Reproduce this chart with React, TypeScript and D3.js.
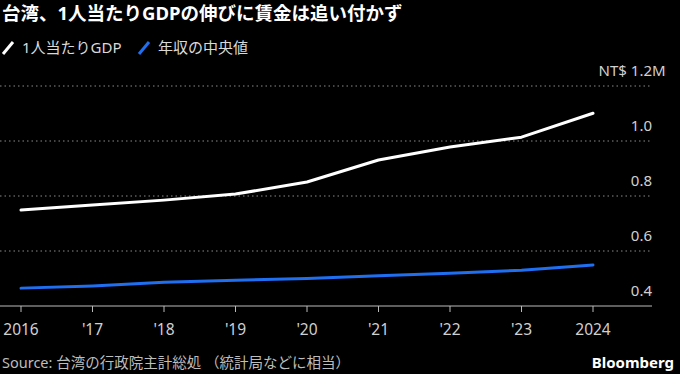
import React from "react";
import * as d3 from "d3";

const years = [2016, 2017, 2018, 2019, 2020, 2021, 2022, 2023, 2024];
const yearLabels = ["2016", "'17", "'18", "'19", "'20", "'21", "'22", "'23", "2024"];
const gdpPerCapita = [0.749, 0.767, 0.785, 0.807, 0.851, 0.931, 0.978, 1.014, 1.101];
const medianIncome = [0.465, 0.473, 0.486, 0.494, 0.5, 0.51, 0.519, 0.53, 0.549];
const yTicks = [0.4, 0.6, 0.8, 1.0, 1.2];
const seriesNames = ["1人当たりGDP", "年収の中央値"];
const seriesColors = ["#ffffff", "#1f6ff0"];

const W = 680;
const H = 374;
const FONT = "'Noto Sans', 'Noto Sans CJK JP', sans-serif";

export default function App() {
  const x = d3.scaleLinear().domain([2016, 2024]).range([21, 593]);
  const y = d3.scaleLinear().domain([0.4, 1.2]).range([306, 86]);
  const line = d3
    .line<number>()
    .x((_, i) => x(years[i]))
    .y((d) => y(d));
  const series = [gdpPerCapita, medianIncome];

  return (
    <svg
      width={W}
      height={H}
      style={{ position: "absolute", left: 0, top: 0, background: "#000" }}
      fontFamily={FONT}
    >
      <rect x={0} y={0} width={W} height={H} fill="#000" />
      <text x={2} y={20} fill="#fff" fontSize={18.5} fontWeight={700}>
        台湾、1人当たりGDPの伸びに賃金は追い付かず
      </text>
      {/* legend */}
      <g>
        <line x1={3} y1={54} x2={13} y2={42} stroke={seriesColors[0]} strokeWidth={3} />
        <text x={22} y={53} fill="#d9d9d9" fontSize={15}>
          {seriesNames[0]}
        </text>
        <line x1={139} y1={54} x2={149} y2={42} stroke={seriesColors[1]} strokeWidth={3} />
        <text x={158} y={53} fill="#d9d9d9" fontSize={15}>
          {seriesNames[1]}
        </text>
      </g>
      {/* grid */}
      {yTicks
        .filter((t) => t > 0.4)
        .map((t) => (
          <line
            key={t}
            x1={0}
            x2={652}
            y1={y(t)}
            y2={y(t)}
            stroke="#8a8a8a"
            strokeWidth={1}
            strokeDasharray="1.5,3"
          />
        ))}
      {yTicks.map((t) => (
        <text
          key={"l" + t}
          x={652}
          y={y(t) - 10}
          fill="#d0d0d0"
          fontSize={15}
          textAnchor="end"
        >
          {t === 1.2 ? "NT$ 1.2" : t.toFixed(1)}
        </text>
      ))}
      <text x={652} y={y(1.2) - 10} fill="#d0d0d0" fontSize={15}>
        M
      </text>
      {/* axis */}
      <line x1={0} x2={652} y1={306} y2={306} stroke="#bbb" strokeWidth={1} />
      {years.map((yr, i) => (
        <g key={yr}>
          <line x1={x(yr)} x2={x(yr)} y1={306} y2={312} stroke="#bbb" strokeWidth={1} />
          <text x={x(yr)} y={335} fill="#d0d0d0" fontSize={15.5} textAnchor="middle">
            {yearLabels[i]}
          </text>
        </g>
      ))}
      {/* lines */}
      {series.map((s, i) => (
        <path
          key={i}
          d={line(s) || ""}
          fill="none"
          stroke={seriesColors[i]}
          strokeWidth={3}
          strokeLinejoin="round"
          strokeLinecap="round"
        />
      ))}
      <text x={2} y={368} fill="#bdbdbd" fontSize={14.5}>
        Source: 台湾の行政院主計総処 （統計局などに相当）
      </text>
      <text x={674} y={368} fill="#fff" fontSize={15} fontWeight={700} textAnchor="end">
        Bloomberg
      </text>
    </svg>
  );
}
